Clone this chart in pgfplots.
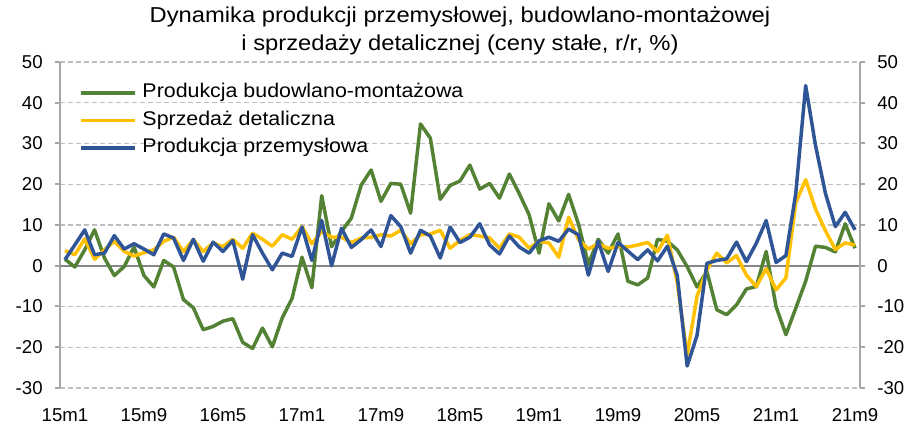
\documentclass[border=0pt]{standalone}
\usepackage{pgfplots}
\usepackage{pgfplotstable}
\pgfplotsset{compat=1.18}
\usepackage{fontspec}
\setmainfont{Liberation Sans}
\newfontfamily\titlefont[FakeStretch=1.1]{Liberation Sans}
\newfontfamily\legfont[FakeStretch=1.08]{Liberation Sans}
\definecolor{cgreen}{HTML}{548235}
\definecolor{cyellow}{HTML}{FFC000}
\definecolor{cblue}{HTML}{2F5597}
\definecolor{caxis}{HTML}{A6A6A6}
\definecolor{czero}{HTML}{868686}
\definecolor{cgrid}{HTML}{BFBFBF}
\pgfplotstableread{
i bud spr prz
0 1.6 3.7 1.5
1 -0.3 2.7 5.1
2 3.9 6.6 8.8
3 8.8 1.6 2.7
4 1.9 3.9 3.1
5 -2.4 6.0 7.4
6 -0.2 3.5 4.1
7 4.6 2.4 5.4
8 -2.4 3.2 4.1
9 -5.2 3.9 2.7
10 1.3 6.0 7.8
11 -0.3 7.0 6.8
12 -8.3 3.5 1.3
13 -10.3 6.4 6.5
14 -15.7 3.5 1.1
15 -14.9 5.6 5.8
16 -13.6 4.7 3.5
17 -13.0 6.5 6.2
18 -18.8 4.3 -3.3
19 -20.3 8.0 7.6
20 -15.3 6.5 3.1
21 -19.9 4.8 -1.0
22 -12.8 7.6 3.1
23 -8.0 6.5 2.3
24 2.1 9.6 9.5
25 -5.4 5.4 1.3
26 17.2 8.4 11.1
27 4.7 7.0 0.0
28 8.4 7.0 9.2
29 11.7 5.7 4.5
30 19.8 6.8 6.4
31 23.5 7.0 8.8
32 15.8 7.6 4.7
33 20.2 7.3 12.3
34 20.0 8.7 9.6
35 12.9 5.4 3.1
36 34.8 7.6 8.7
37 31.3 7.8 7.3
38 16.3 8.7 1.9
39 19.7 4.3 9.5
40 20.8 6.2 5.7
41 24.7 7.6 7.0
42 18.8 7.3 10.3
43 20.2 6.8 5.1
44 16.6 4.3 2.9
45 22.5 7.8 7.3
46 17.7 7.0 4.6
47 12.5 4.3 3.1
48 3.1 6.0 6.1
49 15.2 5.6 7.0
50 11.0 2.1 6.0
51 17.5 11.9 9.0
52 10.2 6.4 7.6
53 0.4 4.1 -2.3
54 6.5 5.4 6.0
55 3.1 4.3 -1.4
56 7.8 4.7 5.7
57 -3.8 4.6 3.6
58 -4.7 5.1 1.5
59 -3.0 5.7 3.9
60 6.5 3.5 1.2
61 6.0 7.5 4.8
62 3.9 -4.2 -2.4
63 -0.2 -22.0 -24.6
64 -5.2 -7.5 -17.1
65 -1.4 -1.0 0.6
66 -10.8 3.1 1.3
67 -12.0 0.7 1.7
68 -9.6 2.5 5.8
69 -5.7 -2.3 1.0
70 -5.1 -5.1 5.5
71 3.5 -0.7 11.1
72 -10.0 -5.9 0.8
73 -16.9 -3.0 2.5
74 -10.4 15.5 17.8
75 -3.8 21.1 44.2
76 4.8 13.9 29.5
77 4.5 8.6 17.8
78 3.4 4.0 9.6
79 10.3 5.6 13.1
80 4.3 5.1 8.8
}\data
\begin{document}
\fontsize{9.3bp}{11bp}\selectfont
\begin{tikzpicture}
\path[use as bounding box] (-30bp,-18bp) rectangle (425bp,194bp);
\pgfplotsset{
  common/.style={
    scale only axis, width=400bp, height=163bp,
    at={(0,0)}, anchor=south west,
    xmin=-0.5, xmax=80.5, ymin=-30, ymax=50,
    ytick={-30,-20,...,50},
    /pgf/number format/assume math mode=true,
    tick label style={font=\fontsize{9.3bp}{11bp}\selectfont},
    tick align=outside, major tick length=2.5bp,
    y axis line style={caxis, line width=1bp},
    ytick style={caxis, line width=1bp},
  }
}
\begin{axis}[common,
  axis y line*=left, axis x line*=bottom,
  x axis line style={draw=none},
  xtick style={draw=none},
  xtick={0,8,...,80},
  xticklabels={15m1,15m9,16m5,17m1,17m9,18m5,19m1,19m9,20m5,21m1,21m9},
  xticklabel style={anchor=base, yshift=-14.3bp},
  yticklabel style={anchor=east, inner sep=0pt, xshift=-6bp},
  ymajorgrids, major grid style={cgrid, line width=0.6bp, dash pattern=on 2.5bp off 1.5bp},
  legend style={draw=none, fill=none, at={(0.02375,0.933)}, anchor=north west,
    inner sep=0pt, outer sep=0pt, row sep=4.75bp, column sep=3bp,
    font=\legfont\fontsize{9.9bp}{11bp}\selectfont,
    nodes={inner sep=0pt, text height=7bp, text depth=2bp, anchor=west}},
  legend cell align=left,
  legend image code/.code={\draw[#1] (0bp,0bp) -- (27bp,0bp);},
]
\addplot[czero, line width=1bp, forget plot] coordinates {(-0.5,0) (80.5,0)};
\addplot[cgreen, line width=1.75bp, line join=round] table[x=i, y=bud] {\data};
\addlegendentry{Produkcja budowlano-montażowa}
\addplot[cyellow, line width=1.75bp, line join=round] table[x=i, y=spr] {\data};
\addlegendentry{Sprzedaż detaliczna}
\addplot[cblue, line width=1.75bp, line join=round] table[x=i, y=prz] {\data};
\addlegendentry{Produkcja przemysłowa}
\end{axis}
\begin{axis}[common,
  axis y line*=right, axis x line=none,
  yticklabel style={anchor=west, inner sep=0pt, xshift=6bp},
]
\addplot[draw=none, forget plot] coordinates {(0,0)};
\end{axis}
\node[align=center, font=\titlefont\fontsize{10.8bp}{14bp}\selectfont] at (200bp,178.5bp)
  {Dynamika produkcji przemysłowej, budowlano-montażowej\\i sprzedaży detalicznej (ceny stałe, r/r, \%)};
\end{tikzpicture}
\end{document}
